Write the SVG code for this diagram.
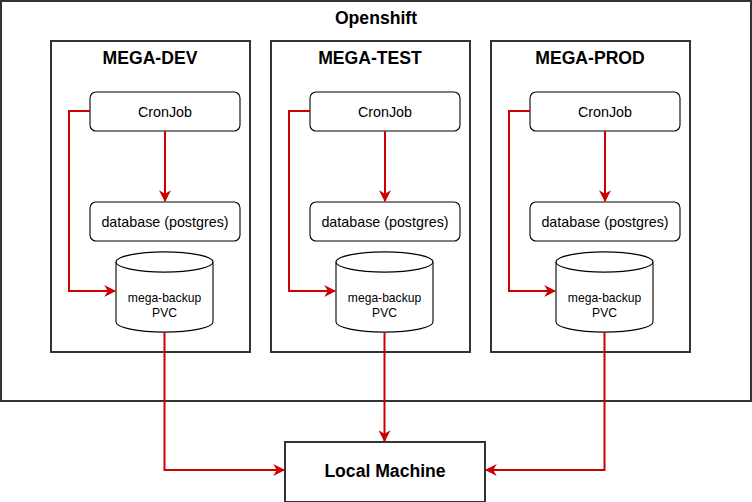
<svg xmlns="http://www.w3.org/2000/svg" width="752" height="502" viewBox="0 0 752 502">
<style>
.box{fill:#fff;stroke:#000;stroke-width:1.1}
.env{fill:#fff;stroke:#333;stroke-width:2}
.t{font-family:"Liberation Sans",Arial,sans-serif;text-anchor:middle;fill:#000}
.b{font-weight:bold;font-size:17.6px}
.n{font-size:14.3px}
.s{font-size:12.1px}
.c{fill:none;stroke:#CC0000;stroke-width:2}
</style>
<defs>
<marker id="ah" viewBox="0 0 10 10" refX="9" refY="5" markerWidth="6" markerHeight="6" orient="auto" markerUnits="strokeWidth">
<path d="M0,0 L10,5 L0,10 L3,5 Z" fill="#CC0000"/>
</marker>
<g id="ns">
<rect class="box" x="90" y="92" width="150" height="39" rx="6"/>
<text class="t n" x="165" y="117">CronJob</text>
<rect class="box" x="90" y="202" width="150" height="39" rx="6"/>
<text class="t n" x="165" y="227">database (postgres)</text>
<path class="box" d="M116,262 A48,10 0 0 1 213,262 L213,322 A48,10 0 0 1 116,322 Z"/>
<path class="box" fill="none" d="M116,262 A48,10 0 0 0 213,262"/>
<text class="t s" x="164.5" y="302">mega-backup</text>
<text class="t s" x="164.5" y="317">PVC</text>
</g>
</defs>
<g id="openshift">
<rect class="env" x="1" y="1" width="750" height="400"/>
<text class="t b" x="376" y="24">Openshift</text>
</g>
<g id="mega-dev">
<rect class="env" x="51" y="41" width="199" height="311"/>
<text class="t b" x="150" y="64">MEGA-DEV</text>
<use href="#ns"/>
</g>
<g id="mega-test">
<rect class="env" x="271" y="41" width="199" height="311"/>
<text class="t b" x="370" y="64">MEGA-TEST</text>
<use href="#ns" x="220"/>
</g>
<g id="mega-prod">
<rect class="env" x="491" y="41" width="199" height="311"/>
<text class="t b" x="590" y="64">MEGA-PROD</text>
<use href="#ns" x="440"/>
</g>
<g id="local-machine">
<rect class="env" x="285" y="442" width="200" height="60"/>
<text class="t b" x="385" y="477">Local Machine</text>
</g>
<g id="connectors">
<path class="c" d="M165,131 V201" marker-end="url(#ah)"/>
<path class="c" d="M385,131 V201" marker-end="url(#ah)"/>
<path class="c" d="M605,131 V201" marker-end="url(#ah)"/>
<path class="c" d="M90,111 H69 V291 H115" marker-end="url(#ah)"/>
<path class="c" d="M310,111 H289 V291 H335" marker-end="url(#ah)"/>
<path class="c" d="M530,111 H509 V291 H555" marker-end="url(#ah)"/>
<path class="c" d="M164.5,332 V470 H284" marker-end="url(#ah)"/>
<path class="c" d="M384.5,332 V441" marker-end="url(#ah)"/>
<path class="c" d="M604.5,332 V470 H486" marker-end="url(#ah)"/>
</g>
</svg>
